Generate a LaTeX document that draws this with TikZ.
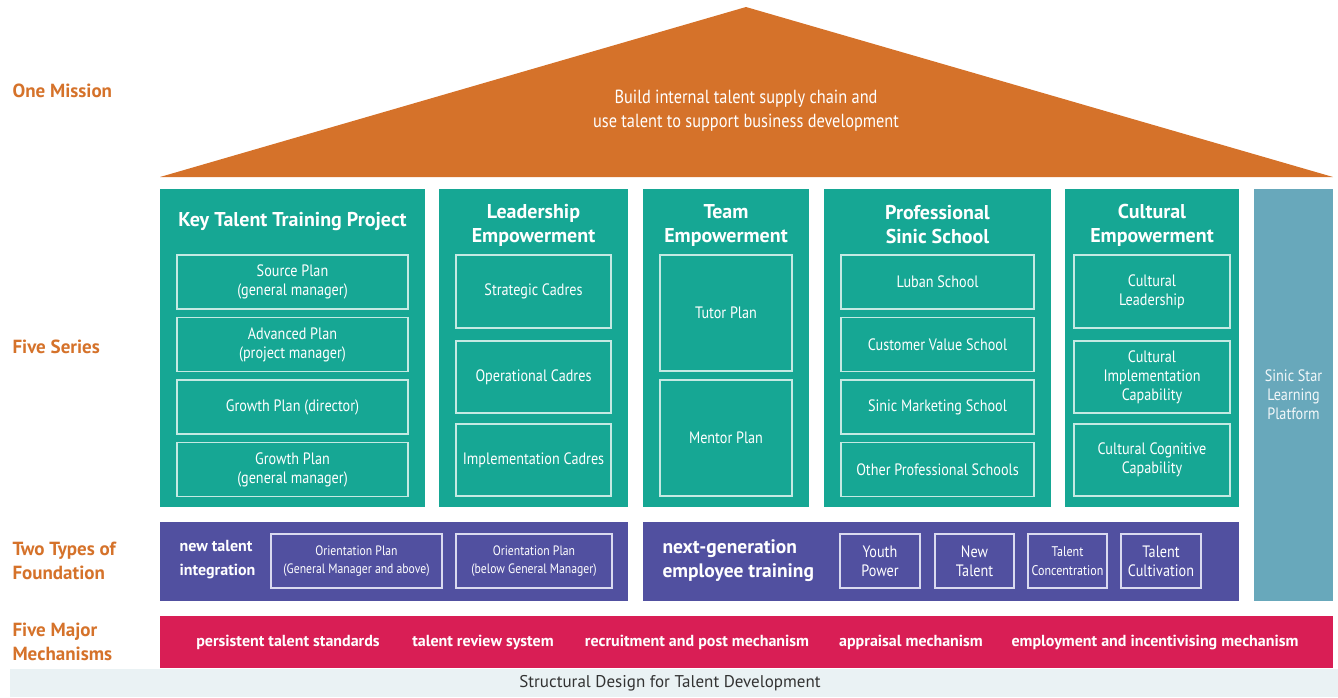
\documentclass[tikz,border=0pt]{standalone}
\usepackage{fontspec}
\setmainfont{PT Sans}
\newfontfamily\cond{PT Sans}[FakeStretch=0.86]
\usepackage{tikz}

\definecolor{roof}{HTML}{D5722A}
\definecolor{series}{HTML}{16A794}
\definecolor{seriesline}{HTML}{C4EAE3}
\definecolor{base}{HTML}{5150A0}
\definecolor{baseline}{HTML}{DADAF0}
\definecolor{mech}{HTML}{D91E55}
\definecolor{platform}{HTML}{68A8BB}
\definecolor{strip}{HTML}{EAF2F4}

\begin{document}
\begin{tikzpicture}[x=1pt, y=-1pt,
    side/.style={anchor=west, align=left, text=roof, font=\bfseries\fontsize{19}{24}\selectfont},
    block/.style={inner sep=0pt},
    head/.style={text=white, align=center, font=\bfseries\fontsize{20}{24}\selectfont},
    item/.style={draw=seriesline, line width=1.5pt, inner sep=0pt, text=white, align=center, font=\cond\fontsize{16.5}{19}\selectfont},
    pitem/.style={item, draw=baseline},
    mlabel/.style={text=white, font=\bfseries\fontsize{16}{20}\selectfont}]
  \useasboundingbox (0,0) rectangle (1338,697);

  % Tejado: la mision
  \fill[roof] (160,177) -- (746,7) -- (1333,177) -- cycle;
  \node[text=white, align=center, font=\cond\fontsize{19}{24}\selectfont] (mission) at (746,111)
    {Build internal talent supply chain and\\use talent to support business development};

  % Etiquetas de la izquierda
  \node[side] (lmission) at (9,91) {One Mission};
  \node[side] (lseries) at (9,347) {Five Series};
  \node[side] (lfound) at (9,561) {Two Types of\\Foundation};
  \node[side] (lmech) at (9,642) {Five Major\\Mechanisms};

  % Columnas (cinco series)
  \node[block, fill=series, minimum width=265pt, minimum height=318pt] (col1) at (292.5,348) {};
  \node[block, fill=series, minimum width=189pt, minimum height=318pt] (col2) at (533.5,348) {};
  \node[block, fill=series, minimum width=166pt, minimum height=318pt] (col3) at (726,348) {};
  \node[block, fill=series, minimum width=227pt, minimum height=318pt] (col4) at (937.5,348) {};
  \node[block, fill=series, minimum width=174pt, minimum height=318pt] (col5) at (1152,348) {};
  \node[block, fill=platform, minimum width=79pt, minimum height=412pt] (platform) at (1293.5,395) {};
  \node[text=white!92!platform, align=center, font=\cond\fontsize{16.5}{19}\selectfont] (ptext) at (platform) {Sinic Star\\Learning\\Platform};

  % Titulos de las columnas
  \node[head] (h1) at (292.5,222) {Key Talent Training Project};
  \node[head] (h2) at (533.5,225) {Leadership\\Empowerment};
  \node[head] (h3) at (726,225) {Team\\Empowerment};
  \node[head] (h4) at (937.5,225) {Professional\\Sinic School};
  \node[head] (h5) at (1152,225) {Cultural\\Empowerment};

  % Key Talent Training Project
  \node[item, minimum width=231pt, minimum height=54pt] (k1) at (292.5,282) {Source Plan\\(general manager)};
  \node[item, minimum width=231pt, minimum height=54pt] (k2) at (292.5,344.5) {Advanced Plan\\(project manager)};
  \node[item, minimum width=231pt, minimum height=54pt] (k3) at (292.5,407) {Growth Plan (director)};
  \node[item, minimum width=231pt, minimum height=54pt] (k4) at (292.5,469.5) {Growth Plan\\(general manager)};

  % Leadership Empowerment
  \node[item, minimum width=155pt, minimum height=73pt] (l1) at (533.5,291.5) {Strategic Cadres};
  \node[item, minimum width=155pt, minimum height=72pt] (l2) at (533.5,377) {Operational Cadres};
  \node[item, minimum width=155pt, minimum height=72pt] (l3) at (533.5,460) {Implementation Cadres};

  % Team Empowerment
  \node[item, minimum width=132pt, minimum height=116pt] (t1) at (726,313) {Tutor Plan};
  \node[item, minimum width=132pt, minimum height=116pt] (t2) at (726,438) {Mentor Plan};

  % Professional Sinic School
  \node[item, minimum width=193pt, minimum height=54pt] (s1) at (937.5,282) {Luban School};
  \node[item, minimum width=193pt, minimum height=54pt] (s2) at (937.5,344.5) {Customer Value School};
  \node[item, minimum width=193pt, minimum height=54pt] (s3) at (937.5,407) {Sinic Marketing School};
  \node[item, minimum width=193pt, minimum height=54pt] (s4) at (937.5,469.5) {Other Professional Schools};

  % Cultural Empowerment
  \node[item, minimum width=156pt, minimum height=73pt] (e1) at (1152,291.5) {Cultural\\Leadership};
  \node[item, minimum width=156pt, minimum height=72pt] (e2) at (1152,377) {Cultural\\Implementation\\Capability};
  \node[item, minimum width=156pt, minimum height=72pt] (e3) at (1152,460) {Cultural Cognitive\\Capability};

  % Dos tipos de fundamento
  \node[block, fill=base, minimum width=468pt, minimum height=79pt] (found1) at (394,561.5) {};
  \node[block, fill=base, minimum width=596pt, minimum height=79pt] (found2) at (941,561.5) {};
  \node[anchor=west, align=left, text=white, font=\bfseries\fontsize{16}{24}\selectfont] (newtal) at (176,560) {new talent\\integration};
  \node[pitem, minimum width=171pt, minimum height=54pt, font=\cond\fontsize{13.6}{18}\selectfont] (o1) at (356.5,561) {Orientation Plan\\(General Manager and above)};
  \node[pitem, minimum width=156pt, minimum height=54pt, font=\cond\fontsize{13.6}{18}\selectfont] (o2) at (534,561) {Orientation Plan\\(below General Manager)};
  \node[anchor=west, align=left, text=white, font=\bfseries\fontsize{19.5}{24}\selectfont] (nextgen) at (659,561) {next-generation\\employee training};
  \node[pitem, minimum width=80pt, minimum height=54pt] (g1) at (880,561) {Youth\\Power};
  \node[pitem, minimum width=79pt, minimum height=54pt] (g2) at (974.5,561) {New\\Talent};
  \node[pitem, minimum width=79pt, minimum height=54pt, font=\cond\fontsize{14}{19}\selectfont] (g3) at (1067.5,561) {Talent\\Concentration};
  \node[pitem, minimum width=80pt, minimum height=54pt] (g4) at (1161,561) {Talent\\Cultivation};

  % Cinco mecanismos
  \node[block, fill=mech, minimum width=1173pt, minimum height=52pt] (mechbar) at (746.5,642) {};
  \node[mlabel] (m1) at (288,642) {persistent talent standards};
  \node[mlabel] (m2) at (483,642) {talent review system};
  \node[mlabel] (m3) at (697,642) {recruitment and post mechanism};
  \node[mlabel] (m4) at (911,642) {appraisal mechanism};
  \node[mlabel] (m5) at (1155,642) {employment and incentivising mechanism};

  % Pie
  \fill[strip] (10,669) rectangle (1338,697);
  \node[text=black!80, font=\fontsize{17}{20}\selectfont] (caption) at (670,683) {Structural Design for Talent Development};
\end{tikzpicture}
\end{document}
